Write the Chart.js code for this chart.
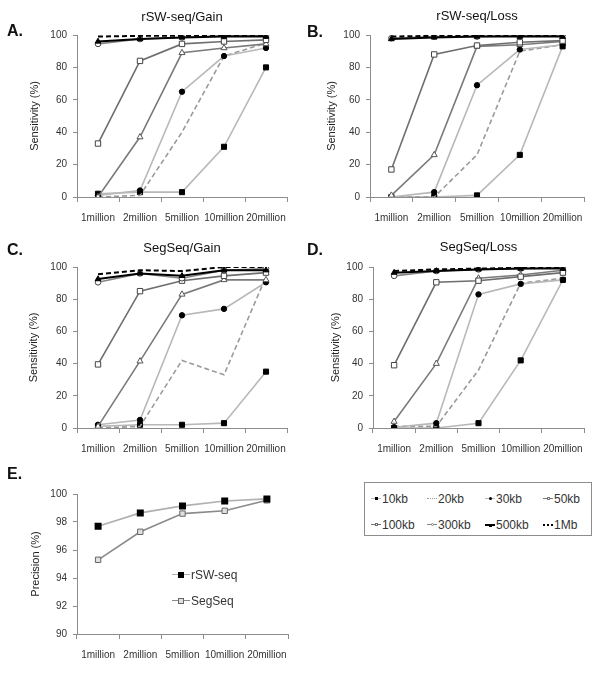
<!DOCTYPE html>
<html>
<head>
<meta charset="utf-8">
<script src="https://cdn.jsdelivr.net/npm/chart.js@4.4.1/dist/chart.umd.min.js"></script>
<style>
  body { margin: 0; background: #fff; font-family: "Liberation Sans", Arial, sans-serif; }
  #page { position: relative; width: 600px; height: 685px; }
  canvas { position: absolute; }
  .legend { position: absolute; left: 364px; top: 482px; width: 226px; height: 52px; border: 1px solid #8c8c8c; }
  .item { position: absolute; font-size: 12px; color: #333; line-height: 14px; white-space: nowrap; }
  .line { display: inline-block; position: relative; width: 10px; height: 0; vertical-align: middle; margin-right: 1px; top: -1px; }
  .dot { position: absolute; left: 50%; top: 50%; box-sizing: border-box; }
</style>
</head>
<body>
<div id="page">
  <canvas id="panelA" width="300" height="230" style="left:0;top:0"></canvas>
  <canvas id="panelB" width="300" height="230" style="left:300px;top:0"></canvas>
  <canvas id="panelC" width="300" height="230" style="left:0;top:230px"></canvas>
  <canvas id="panelD" width="300" height="230" style="left:300px;top:230px"></canvas>
  <canvas id="panelE" width="300" height="225" style="left:0;top:460px"></canvas>
  <div class="legend" id="mainLegend"></div>
  <div id="precLegend"></div>
</div>
<script>
// x categories (reads)
var categories = ['1million', '2million', '5million', '10million', '20million'];
// window sizes, one series each
var windowSizes = ['10kb', '20kb', '30kb', '50kb', '100kb', '300kb', '500kb', '1Mb'];

// sensitivity (%), rows follow windowSizes
var rswGain = [
  [2, 3, 3, 31, 80],
  [0, 1, 40, 87, 95],
  [1, 4, 65, 87, 92],
  [0, 37, 89, 92, 94.5],
  [33, 84, 94.5, 96, 97],
  [94.5, 97.5, 98.5, 99.5, 99.5],
  [96, 97.5, 98.5, 99, 99],
  [99, 99.5, 99.5, 100, 100]
];
var rswLoss = [
  [0, 0, 1, 26, 93],
  [0, 0, 26, 90, 94],
  [0, 3, 69, 91, 94],
  [1, 26, 93, 94, 96],
  [17, 88, 93.5, 95.5, 96.5],
  [98, 99, 99, 99.5, 100],
  [97.5, 98.5, 99, 99, 99],
  [99, 99.5, 99.5, 100, 100]
];
var segGain = [
  [1, 2, 2, 3, 35],
  [0, 1, 42, 33, 94],
  [2, 5, 70, 74, 90.5],
  [1, 41.5, 83, 92, 92],
  [39.5, 85, 91.5, 94.5, 96.5],
  [90.5, 96, 93, 98, 99],
  [92.5, 96, 94.5, 98, 98],
  [95.5, 98, 97.5, 100, 100]
];
var segLoss = [
  [0, 0, 3, 42, 92],
  [1, 1, 36, 90, 93],
  [0.5, 3, 83, 89.5, 92],
  [4, 40, 93, 95, 98],
  [39, 90.5, 91.5, 94, 96.5],
  [94.5, 97.5, 98.5, 99, 99.5],
  [96.5, 97.5, 98.5, 99, 99],
  [97.5, 98.5, 99, 99.5, 100]
];

// precision (%)
var methods = ['rSW-seq', 'SegSeq'];
var rswPrecision = [97.7, 98.65, 99.15, 99.5, 99.65];
var segPrecision = [95.3, 97.3, 98.6, 98.8, 99.55];

var FONT = '"Liberation Sans", Arial, sans-serif';
var axisColor = '#8c8c8c';

// look of each window-size series
var seriesStyle = [
  { line: '#b8b8b8', dash: [], point: 'rect', fill: '#000', edge: '#000', r: 3.6, w: 1.6 },
  { line: '#9a9a9a', dash: [5, 3], point: false, fill: '#999', edge: '#999', r: 0, w: 1.6 },
  { line: '#b8b8b8', dash: [], point: 'circle', fill: '#000', edge: '#000', r: 2.7, w: 1.6 },
  { line: '#7a7a7a', dash: [], point: 'triangle', fill: '#fff', edge: '#555', r: 3.5, w: 1.6 },
  { line: '#6e6e6e', dash: [], point: 'rect', fill: '#fff', edge: '#444', r: 3.8, w: 1.6 },
  { line: '#858585', dash: [], point: 'circle', fill: '#fff', edge: '#444', r: 2.8, w: 1.6 },
  { line: '#000', dash: [], point: 'triangle', fill: '#000', edge: '#000', r: 3.3, w: 2 },
  { line: '#000', dash: [5, 3], point: false, fill: '#000', edge: '#000', r: 0, w: 2 }
];

// panel title and letter
var panelText = {
  id: 'panelText',
  afterDraw: function(chart, args, opts) {
    var ctx = chart.ctx;
    ctx.save();
    ctx.fillStyle = '#111';
    ctx.textBaseline = 'middle';
    ctx.textAlign = 'left';
    ctx.font = 'bold 16px ' + FONT;
    ctx.fillText(opts.letter, opts.letterX, opts.letterY);
    if (opts.title) {
      ctx.font = '13px ' + FONT;
      ctx.textAlign = 'center';
      ctx.fillText(opts.title, (chart.chartArea.left + chart.chartArea.right) / 2, opts.titleY);
    }
    ctx.restore();
  }
};

function windowDatasets(rows) {
  var ds = [];
  for (var i = 0; i < rows.length; i++) {
    var s = seriesStyle[i];
    ds.push({
      label: windowSizes[i],
      data: rows[i],
      borderColor: s.line,
      borderWidth: s.w,
      borderDash: s.dash,
      pointStyle: s.point,
      pointRadius: s.r,
      pointBackgroundColor: s.fill,
      pointBorderColor: s.edge,
      pointBorderWidth: 1,
      tension: 0,
      order: rows.length - i
    });
  }
  return ds;
}

// p: canvas id, chart area (canvas coords), texts
function makePanel(p) {
  var canvas = document.getElementById(p.id);
  var W = canvas.width, H = canvas.height;
  return new Chart(canvas, {
    type: 'line',
    data: { labels: categories, datasets: p.datasets },
    options: {
      responsive: false,
      animation: false,
      layout: { padding: { left: 0, top: p.area.top, right: W - p.area.right, bottom: 0 } },
      plugins: {
        legend: { display: false },
        tooltip: { enabled: false },
        panelText: { letter: p.letter, letterX: 7, letterY: p.letterY, title: p.title, titleY: p.titleY }
      },
      scales: {
        x: {
          offset: true,
          grid: { offset: true, drawOnChartArea: false, tickLength: 5, color: axisColor },
          border: { color: axisColor },
          ticks: { font: { size: 10, family: FONT }, color: '#333', padding: 10, maxRotation: 0, autoSkip: false },
          afterFit: function(s) { s.height = H - p.area.bottom; }
        },
        y: {
          min: p.yMin, max: p.yMax,
          grid: { drawOnChartArea: false, tickLength: 4, color: axisColor },
          border: { color: axisColor },
          ticks: { stepSize: p.yStep, font: { size: 10, family: FONT }, color: '#333', padding: 6 },
          title: { display: true, text: p.yTitle, font: { size: 11, family: FONT }, color: '#222', padding: { top: p.yTitleX - 6.6, bottom: 0 } },
          afterFit: function(s) { s.width = p.area.left; }
        }
      }
    },
    plugins: [panelText]
  });
}

makePanel({ id: 'panelA', letter: 'A.', letterY: 32, title: 'rSW-seq/Gain', titleY: 17,
  yTitle: 'Sensitivity (%)', yTitleX: 35, yMin: 0, yMax: 100, yStep: 20,
  area: { left: 77, top: 35, right: 287, bottom: 197 }, datasets: windowDatasets(rswGain) });
makePanel({ id: 'panelB', letter: 'B.', letterY: 33, title: 'rSW-seq/Loss', titleY: 16,
  yTitle: 'Sensitivity (%)', yTitleX: 32, yMin: 0, yMax: 100, yStep: 20,
  area: { left: 70, top: 35, right: 284, bottom: 197 }, datasets: windowDatasets(rswLoss) });
makePanel({ id: 'panelC', letter: 'C.', letterY: 21, title: 'SegSeq/Gain', titleY: 18,
  yTitle: 'Sensitivity (%)', yTitleX: 34, yMin: 0, yMax: 100, yStep: 20,
  area: { left: 77, top: 37, right: 287, bottom: 198 }, datasets: windowDatasets(segGain) });
makePanel({ id: 'panelD', letter: 'D.', letterY: 21, title: 'SegSeq/Loss', titleY: 17,
  yTitle: 'Sensitivity (%)', yTitleX: 36, yMin: 0, yMax: 100, yStep: 20,
  area: { left: 73, top: 37, right: 284, bottom: 198 }, datasets: windowDatasets(segLoss) });

makePanel({ id: 'panelE', letter: 'E.', letterY: 15, title: '', titleY: 0,
  yTitle: 'Precision (%)', yTitleX: 36, yMin: 90, yMax: 100, yStep: 2,
  area: { left: 77, top: 34, right: 288, bottom: 174 },
  datasets: [
    { label: methods[0], data: rswPrecision, borderColor: '#b0b0b0', borderWidth: 1.6,
      pointStyle: 'rect', pointRadius: 3.8, pointBackgroundColor: '#000', pointBorderColor: '#000', tension: 0 },
    { label: methods[1], data: segPrecision, borderColor: '#8a8a8a', borderWidth: 1.6,
      pointStyle: 'rect', pointRadius: 3.8, pointBackgroundColor: '#e0e0e0', pointBorderColor: '#666', pointBorderWidth: 1, tension: 0 }
  ] });

// legend for window sizes (4 columns x 2 rows)
var legend = document.getElementById('mainLegend');
var colX = [6, 62, 120, 178];
var rowY = [9, 35];
for (var i = 0; i < windowSizes.length; i++) {
  var s = seriesStyle[i];
  var it = document.createElement('div');
  it.className = 'item';
  it.style.left = colX[i % 4] + 'px';
  it.style.top = rowY[Math.floor(i / 4)] + 'px';
  var ln = document.createElement('span');
  ln.className = 'line';
  var dashed = s.dash.length > 0;
  ln.style.borderTop = (s.w > 1.8 ? '2px ' : '1px ') + (dashed ? 'dotted ' : 'solid ') + s.line;
  if (s.point) {
    var dt = document.createElement('span');
    dt.className = 'dot';
    var sz = 3;
    dt.style.width = sz + 'px'; dt.style.height = sz + 'px';
    dt.style.marginLeft = (-sz / 2) + 'px'; dt.style.marginTop = (-sz / 2 - 0.5) + 'px';
    dt.style.background = s.fill;
    if (s.fill === '#fff') dt.style.border = '1px solid ' + s.line;
    if (s.point === 'circle') dt.style.borderRadius = '50%';
    ln.appendChild(dt);
  }
  it.appendChild(ln);
  it.appendChild(document.createTextNode(windowSizes[i]));
  legend.appendChild(it);
}

// legend inside panel E
var pl = document.getElementById('precLegend');
var precMarks = [
  { line: '#b0b0b0', fill: '#000', edge: '#000', y: 568 },
  { line: '#8a8a8a', fill: '#e0e0e0', edge: '#666', y: 594 }
];
for (var j = 0; j < methods.length; j++) {
  var m = precMarks[j];
  var e = document.createElement('div');
  e.className = 'item';
  e.style.left = '172px';
  e.style.top = m.y + 'px';
  var l2 = document.createElement('span');
  l2.className = 'line';
  l2.style.width = '18px';
  l2.style.borderTop = '1.5px solid ' + m.line;
  var d2 = document.createElement('span');
  d2.className = 'dot';
  d2.style.width = '6px'; d2.style.height = '6px';
  d2.style.marginLeft = '-3px'; d2.style.marginTop = '-3.75px';
  d2.style.background = m.fill;
  d2.style.border = '1px solid ' + m.edge;
  l2.appendChild(d2);
  e.appendChild(l2);
  e.appendChild(document.createTextNode(methods[j]));
  pl.appendChild(e);
}
</script>
</body>
</html>
